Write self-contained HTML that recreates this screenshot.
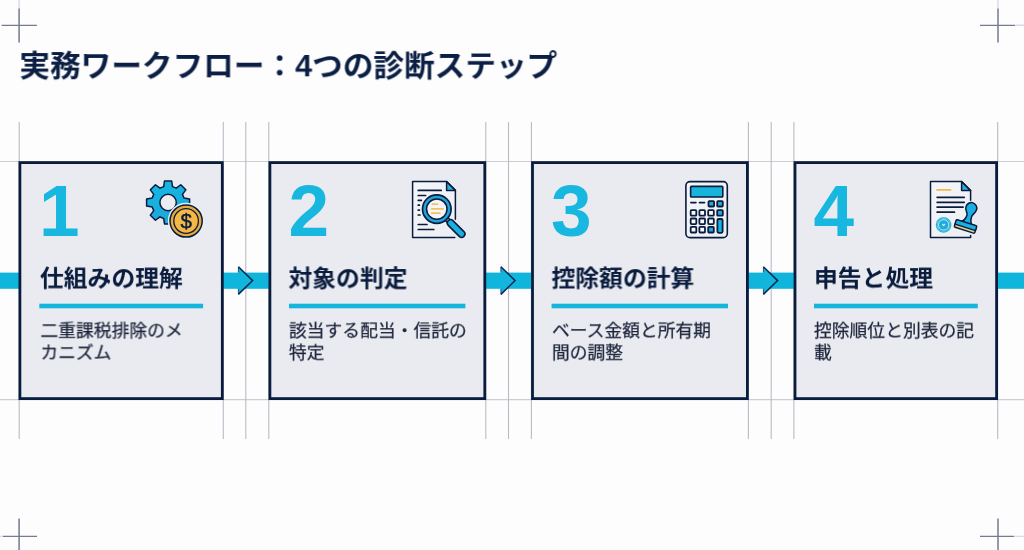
<!DOCTYPE html>
<html lang="ja">
<head>
<meta charset="utf-8">
<title>実務ワークフロー：4つの診断ステップ</title>
<style>
html,body{margin:0;padding:0;}
body{width:1024px;height:550px;overflow:hidden;background:#fdfdfe;
  font-family:"Liberation Sans","Noto Sans CJK JP",sans-serif;color:#0a1c3e;}
#stage{position:relative;width:1024px;height:550px;overflow:hidden;background:#fdfdfe;}
.num{position:absolute;left:0;top:0;margin:0;font-weight:700;font-size:73px;line-height:70px;color:#17b7e0;}
.hd{position:absolute;left:0;top:0;margin:0;font-weight:700;font-size:23.8px;line-height:30px;white-space:nowrap;color:#0a1c3e;}
.tx{position:absolute;left:0;top:0;margin:0;font-weight:400;-webkit-text-stroke:0.25px #1c253b;font-size:17.8px;line-height:22.7px;white-space:nowrap;color:#1c253b;}
h1{position:absolute;margin:0;left:0;top:0;font-weight:700;font-size:30.65px;line-height:44px;white-space:nowrap;color:#0b1f44;}
svg{position:absolute;overflow:visible;}
h1,.hd,.tx,.num{will-change:transform;transform-origin:0 0;}
</style>
</head>
<body>
<div id="stage">
  <!-- background layer : guides, crop marks, flow band, step panels -->
  <svg id="bg" style="left:0;top:0" width="1024" height="550" viewBox="0 0 1024 550">
    <g id="guides" fill="none" stroke-width="1.1">
      <path stroke="#cacdd3" d="M0 161.5 H1024 M0 399.6 H1024"/>
      <path stroke="#b9bcc6" d="M19.2 122 V439 M223.3 122 V439 M245.8 122 V439 M268.8 122 V439 M485.8 122 V439 M508.5 122 V439 M531.4 122 V439 M748.4 122 V439 M771.2 122 V439 M793.9 122 V439 M997.7 122 V439"/>
    </g>
    <g id="cropmarks" fill="none">
      <path stroke="#d9dbe1" stroke-width="1.4" d="M19.1 0 V8.4 M998 0 V8.4 M1015 25.3 H1024 M0 536.4 H3 M1014 536.4 H1024"/>
      <path stroke="#737b90" stroke-width="1.5" d="M19.1 8.4 V42.6 M998 8.4 V42.6 M19.1 518.4 V550 M998 518.4 V550"/>
      <path stroke="#737b90" stroke-width="1.2" d="M1.6 25.3 H36.9 M980 25.3 H1015 M3 536.4 H37 M980 536.4 H1014"/>
    </g>
    <rect id="band" x="0" y="272.6" width="1024" height="16.2" fill="#10b5dc"/>
    <g id="panels" fill="#eaebf1" stroke="#0a1c3e" stroke-width="2.8">
      <rect x="19.9" y="162.6" width="202.4" height="236"/>
      <rect x="269.9" y="162.6" width="214.9" height="236"/>
      <rect x="532.5" y="162.6" width="214.9" height="236"/>
      <rect x="795" y="162.6" width="201.6" height="236"/>
    </g>
    <g id="rules" fill="#16b5dc">
      <rect x="39.3" y="303.7" width="163.8" height="4.6"/>
      <rect x="289" y="303.7" width="176.4" height="4.6"/>
      <rect x="551.6" y="303.7" width="176.4" height="4.6"/>
      <rect x="814" y="303.7" width="163.8" height="4.6"/>
    </g>
    <g id="arrows">
      <path d="M238.4 266.8 L252.6 280.6 L238.4 294.4 Z" fill="#12b6dd"/>
      <path d="M238.4 266.8 L252.6 280.6 L238.4 294.4" fill="none" stroke="#0b2a55" stroke-width="1.5" stroke-linejoin="miter"/>
      <path d="M238.4 266.8 V272.4 M238.4 288.9 V294.4" fill="none" stroke="#0b2a55" stroke-width="1" stroke-opacity="0.75"/>
      <path d="M500.9 266.8 L515.1 280.6 L500.9 294.4 Z" fill="#12b6dd"/>
      <path d="M500.9 266.8 L515.1 280.6 L500.9 294.4" fill="none" stroke="#0b2a55" stroke-width="1.5" stroke-linejoin="miter"/>
      <path d="M500.9 266.8 V272.4 M500.9 288.9 V294.4" fill="none" stroke="#0b2a55" stroke-width="1" stroke-opacity="0.75"/>
      <path d="M763.4 266.8 L777.6 280.6 L763.4 294.4 Z" fill="#12b6dd"/>
      <path d="M763.4 266.8 L777.6 280.6 L763.4 294.4" fill="none" stroke="#0b2a55" stroke-width="1.5" stroke-linejoin="miter"/>
      <path d="M763.4 266.8 V272.4 M763.4 288.9 V294.4" fill="none" stroke="#0b2a55" stroke-width="1" stroke-opacity="0.75"/>
    </g>
  </svg>

  <h1 style="transform:translate(19.35px,44.3px) scale(1,0.97)">実務ワークフロー：4つの診断ステップ</h1>


  <!-- step 1 -->
  <section>
    <p class="num" style="transform:translate(38.9px,175.5px)">1</p>
    <h2 class="hd" style="transform:translate(39.9px,264.2px) scale(1,0.97)">仕組みの理解</h2>
    <p class="tx" style="transform:translate(40.4px,320.5px) scale(1,0.955)">二重課税排除のメ<br>カニズム</p>
  </section>

  <!-- step 2 -->
  <section>
    <p class="num" style="transform:translate(288.6px,175.5px)">2</p>
    <h2 class="hd" style="transform:translate(288.5px,264.2px) scale(1,0.97)">対象の判定</h2>
    <p class="tx" style="transform:translate(288.9px,320.5px) scale(1,0.955)">該当する配当・信託の<br>特定</p>
  </section>

  <!-- step 3 -->
  <section>
    <p class="num" style="transform:translate(550.9px,175.5px)">3</p>
    <h2 class="hd" style="transform:translate(551.5px,264.2px) scale(1,0.97)">控除額の計算</h2>
    <p class="tx" style="transform:translate(551.9px,320.5px) scale(1,0.955)">ベース金額と所有期<br>間の調整</p>
  </section>

  <!-- step 4 -->
  <section>
    <p class="num" style="transform:translate(813.4px,175.5px)">4</p>
    <h2 class="hd" style="transform:translate(814.0px,264.2px) scale(1,0.97)">申告と処理</h2>
    <p class="tx" style="transform:translate(814.0px,320.5px) scale(1,0.955)">控除順位と別表の記<br>載</p>
  </section>

  <!-- icons -->
  <svg id="icons" style="left:0;top:0" width="1024" height="550" viewBox="0 0 1024 550">
    <defs>
      <linearGradient id="gGear" x1="0" y1="0" x2="0.3" y2="1">
        <stop offset="0" stop-color="#13bbe4"/>
        <stop offset="1" stop-color="#1ea6d9"/>
      </linearGradient>
      <linearGradient id="gDoc" x1="0" y1="0" x2="1" y2="1">
        <stop offset="0" stop-color="#f5f6f9"/>
        <stop offset="1" stop-color="#eceef3"/>
      </linearGradient>
    </defs>

    <!-- icon 1 : gear and coin -->
    <g id="ic1" stroke="#0a1c3e" stroke-width="1.5" stroke-linejoin="round" stroke-linecap="round">
      <path d="M163.69 186.60 L164.50 181.00 L171.70 181.00 L172.51 186.60 A16.50 16.50 0 0 1 176.22 188.14 L180.76 184.75 L185.85 189.84 L182.46 194.38 A16.50 16.50 0 0 1 184.00 198.09 L189.60 198.90 L189.60 206.10 L184.00 206.91 A16.50 16.50 0 0 1 182.46 210.62 L185.85 215.16 L180.76 220.25 L176.22 216.86 A16.50 16.50 0 0 1 172.51 218.40 L171.70 224.00 L164.50 224.00 L163.69 218.40 A16.50 16.50 0 0 1 159.98 216.86 L155.44 220.25 L150.35 215.16 L153.74 210.62 A16.50 16.50 0 0 1 152.20 206.91 L146.60 206.10 L146.60 198.90 L152.20 198.09 A16.50 16.50 0 0 1 153.74 194.38 L150.35 189.84 L155.44 184.75 L159.98 188.14 A16.50 16.50 0 0 1 163.69 186.60 Z" fill="url(#gGear)"/>
      <circle cx="168.1" cy="202.5" r="8.2" fill="#ecedf2"/>
      <circle cx="186.1" cy="221" r="18.3" fill="#e3f2f8" stroke="none"/>
      <circle cx="186.1" cy="221" r="16.1" fill="#e9aa3a"/>
      <circle cx="186.1" cy="221" r="12.3" fill="#f4b944" stroke-width="1.3"/>
      <text x="186.1" y="228.2" text-anchor="middle" font-family="'Liberation Sans',sans-serif" font-weight="400" font-size="20.5" fill="#0a1c3e" stroke="#0a1c3e" stroke-width="0.45">$</text>
    </g>

    <!-- icon 2 : document and magnifier -->
    <g id="ic2" stroke="#0a1c3e" stroke-width="1.5" stroke-linejoin="round" stroke-linecap="round" fill="none">
      <path d="M412.6 181.6 H446.6 L455.4 190.4 V237.4 H412.6 Z" fill="url(#gDoc)" stroke="none"/>
      <path d="M455.4 219.2 V190.4 L446.6 181.6 H412.6 V237.4 H454.8"/>
      <path d="M446.6 181.6 V190.4 H455.4 Z" fill="#2bb0dc"/>
      <g stroke-width="1.7">
        <path d="M418.2 190.4 H441.2"/>
        <path d="M418.2 195.5 H425.6"/>
        <path d="M418.2 200.3 H421.4"/>
        <path d="M418.2 205.2 H419.4"/>
        <path d="M418.2 210.1 H419.4"/>
        <path d="M418.2 215 H420"/>
        <path d="M418.2 224.5 H427"/>
        <path d="M418.2 229.5 H433.8"/>
      </g>
      <path d="M446.4 218.8 L449.8 222.2" stroke="#0a1c3e" stroke-width="5.2" stroke-linecap="butt"/>
      <path d="M446.4 218.8 L449.8 222.2" stroke="#f2f3f7" stroke-width="2.4" stroke-linecap="butt"/>
      <path d="M450.6 223 L461.6 234" stroke="#0a1c3e" stroke-width="8.2"/>
      <path d="M450.6 223 L461.6 234" stroke="#1bafe0" stroke-width="5"/>
      <circle cx="436.8" cy="209.1" r="14.3" fill="#1fa3d8" stroke-width="1.7"/>
      <circle cx="436.8" cy="209.1" r="10.2" fill="#f5f5f7" stroke-width="1.5"/>
      <g stroke="#f3c15f" stroke-width="1.7">
        <path d="M432.4 204.2 H437.4"/>
        <path d="M431.6 208.8 H443.2"/>
        <path d="M431.6 213.2 H439.8"/>
      </g>
    </g>

    <!-- icon 3 : calculator -->
    <g id="ic3" stroke="#0a1c3e" stroke-width="1.6" stroke-linejoin="round" stroke-linecap="round" fill="none">
      <rect x="685.9" y="181.6" width="41.4" height="56" rx="4.2" fill="url(#gDoc)"/>
      <rect x="690.6" y="186.4" width="32.2" height="10.6" rx="0.8" fill="#17b5de"/>
      <path d="M690.8 202.6 H696 M699.4 202.6 H704.6" stroke-width="1.6"/>
      <g stroke-width="1.8">
        <rect x="708.5" y="201.1" width="5.6" height="5.4" rx="0.8" fill="#25a9d9"/>
        <rect x="717.2" y="201.1" width="5.6" height="5.4" rx="0.8" fill="#25a9d9"/>
        <rect x="690.7" y="210.1" width="5.6" height="5.6" rx="0.8" fill="#fbfcfe"/>
        <rect x="699.4" y="210.1" width="5.6" height="5.6" rx="0.8" fill="#fbfcfe"/>
        <rect x="708.2" y="210.1" width="5.6" height="5.6" rx="0.8" fill="#fbfcfe"/>
        <rect x="717.2" y="210.1" width="5.6" height="5.6" rx="0.8" fill="#25a9d9"/>
        <rect x="690.7" y="218.5" width="5.6" height="5.6" rx="0.8" fill="#fbfcfe"/>
        <rect x="699.4" y="218.5" width="5.6" height="5.6" rx="0.8" fill="#fbfcfe"/>
        <rect x="708.2" y="218.5" width="5.6" height="5.6" rx="0.8" fill="#fbfcfe"/>
        <rect x="717.4" y="219" width="5.2" height="13.8" rx="1.2" fill="#17b5de"/>
        <rect x="690.7" y="226.9" width="5.6" height="5.6" rx="0.8" fill="#fbfcfe"/>
        <rect x="699.4" y="226.9" width="5.6" height="5.6" rx="0.8" fill="#fbfcfe"/>
        <rect x="708.2" y="226.9" width="5.6" height="5.6" rx="0.8" fill="#25a9d9"/>
      </g>
    </g>

    <!-- icon 4 : document and stamp -->
    <g id="ic4" stroke="#0a1c3e" stroke-width="1.5" stroke-linejoin="round" stroke-linecap="round" fill="none">
      <path d="M930.5 181.6 H961.6 L970.6 190.6 V237.4 H930.5 Z" fill="url(#gDoc)" stroke="none"/>
      <path d="M970.6 200.2 V190.6 L961.6 181.6 H930.5 V237.4 H970.6 V235.6"/>
      <path d="M961.6 181.6 V190.6 H970.6 Z" fill="#2bb0dc"/>
      <path d="M937 189.9 H950.6" stroke="#f1b84a" stroke-width="1.7"/>
      <g stroke-width="1.8">
        <path d="M937.2 197.3 H964.2"/>
        <path d="M937.2 202.3 H964.2"/>
        <path d="M937.2 207.2 H963"/>
        <path d="M937.2 212.2 H954.4"/>
      </g>
      <circle cx="943.6" cy="224.9" r="7.9" fill="#cdeff8" stroke="none"/>
      <circle cx="943.6" cy="224.9" r="7.1" fill="none" stroke="#2db2dc" stroke-width="1.3" stroke-dasharray="1.5 0.98"/>
      <circle cx="943.6" cy="224.9" r="6.5" fill="#2db2dc" stroke="none"/>
      <circle cx="943.6" cy="224.9" r="5.6" fill="#a9ebf6" stroke="none"/>
      <circle cx="943.6" cy="224.9" r="4.7" fill="#25a9d7" stroke="none"/>
      <path d="M942.5 224.3 L943.6 225.5 L944.7 224.3" fill="none" stroke="#c5f1f9" stroke-width="1.2"/>
      <g transform="translate(965.5 226.5) rotate(17.5)">
        <path d="M-5.4 -3.6 C-3 -5.4 -2 -8.4 -2 -11.4 C-2.2 -14 -5.5 -15.4 -5.5 -19.3 A5.5 5.5 0 1 1 5.5 -19.3 C5.5 -15.4 3 -14 2.9 -11.4 C2.8 -8.4 3.4 -5.4 5.6 -3.6 Z" fill="#1baee0"/>
        <rect x="-10.7" y="-3.9" width="21.4" height="7.8" rx="1.1" fill="#e9d089"/>
        <path d="M-10.7 1 V-2.8 A1.1 1.1 0 0 1 -9.6 -3.9 H9.6 A1.1 1.1 0 0 1 10.7 -2.8 V1 Z" fill="#1baee0" stroke-width="1.3"/>
      </g>
    </g>
  </svg>
</div>
</body>
</html>
